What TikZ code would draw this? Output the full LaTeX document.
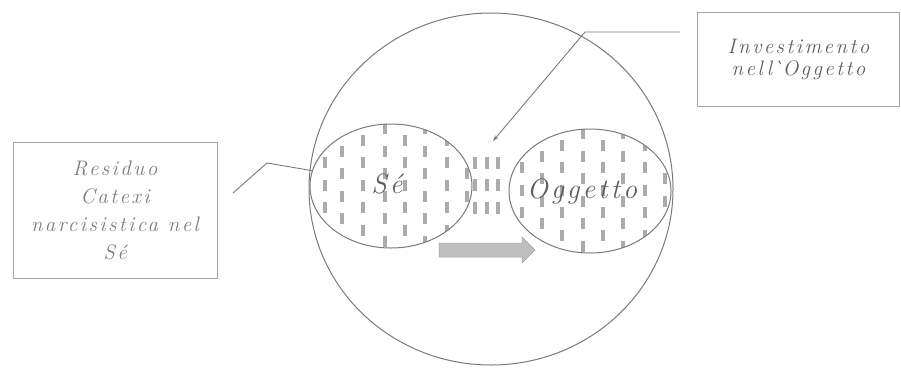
\documentclass[tikz,border=0pt]{standalone}
\usepackage{fontspec}
\setmainfont{Latin Modern Roman}
\newfontfamily\hand{Latin Modern Roman}[LetterSpace=11.5]
\usetikzlibrary{shapes.geometric,arrows.meta}
\definecolor{lineg}{HTML}{7A7A7A}
\definecolor{boxg}{HTML}{A6A6A6}
\definecolor{textg}{HTML}{7C7C7C}
\definecolor{textd}{HTML}{5E5E5E}
\definecolor{hatchg}{HTML}{ABABAB}
\definecolor{arrfill}{HTML}{BFBFBF}
\tikzset{
  labelbox/.style={draw=boxg, line width=1pt, inner sep=0pt, align=center, text=textg, font=\hand\itshape\fontsize{21}{28}\selectfont},
  oval/.style={draw=lineg, line width=1pt, ellipse, inner sep=0pt},
  hatchline/.style={draw=hatchg, line width=3.4pt},
  connector/.style={draw=lineg, line width=0.9pt},
  bigtext/.style={text=textd, font=\hand\itshape\fontsize{28}{30}\selectfont, inner sep=0pt}
}
\begin{document}
\begin{tikzpicture}[x=1pt,y=-1pt]
\useasboundingbox (0,0) rectangle (901,376);

% hatch inside Se
\begin{scope}
  \clip (391,186) ellipse [x radius=81, y radius=62];
  \foreach \cx [count=\i] in {305,325,342,363,385,405,425,447,467} {
    \pgfmathsetmacro{\ph}{mod(\i,2)==0 ? 0 : 11.25}
    \foreach \k in {0,...,7} {
      \draw[hatchline] (\cx,{112+\ph+22.5*\k}) -- ++(0,11);
    }
  }
\end{scope}
% hatch inside Oggetto
\begin{scope}
  \clip (590,191) ellipse [x radius=81, y radius=62];
  \foreach \cx [count=\i] in {502,522,542,562,583,603,623,645,665} {
    \pgfmathsetmacro{\ph}{mod(\i,2)==0 ? 0 : 11.25}
    \foreach \k in {0,...,7} {
      \draw[hatchline] (\cx,{117+\ph+22.5*\k}) -- ++(0,11);
    }
  }
\end{scope}
% dashes between
\foreach \cx in {475,487,498} {
  \foreach \cy in {157,179,202} {
    \draw[hatchline] (\cx,\cy) -- ++(0,12);
  }
}

% outer circle and ellipses
\node[oval, minimum width=364pt, minimum height=352pt] (outer) at (491,189) {};
\node[oval, minimum width=162pt, minimum height=124pt] (se) at (391,186) {};
\node[oval, minimum width=162pt, minimum height=124pt] (ogg) at (590,191) {};

\node[bigtext] (setext) at (387,184) {Sé};
\node[bigtext] (oggtext) at (582,191) {Oggetto};

% block arrow
\draw[draw=arrfill!85!black, fill=arrfill, line width=0.5pt]
  (439,243) -- (522,243) -- (522,237) -- (535,250) -- (522,263) -- (522,257) -- (439,257) -- cycle;

% label boxes
\node[labelbox, minimum width=204pt, minimum height=136pt] (lbox) at (115,210)
  {Residuo\\Catexi\\narcisistica nel\\Sé};
\node[labelbox, text=textd, minimum width=202pt, minimum height=94pt,
      font=\hand\itshape\fontsize{21}{22}\selectfont] (rbox) at (798.5,59)
  {Investimento\\nell\textasciigrave Oggetto};

% connectors
\coordinate (l1) at (233,193);
\coordinate (l2) at (267,163);
\draw[connector] (l1) -- (l2) -- (se.169);
\coordinate (r1) at (680,32);
\coordinate (r2) at (585,32);
\coordinate (rtip) at (493,141);
\draw[connector, -{Stealth[length=6pt,width=4pt]}] (r1) -- (r2) -- (rtip);
\end{tikzpicture}
\end{document}
